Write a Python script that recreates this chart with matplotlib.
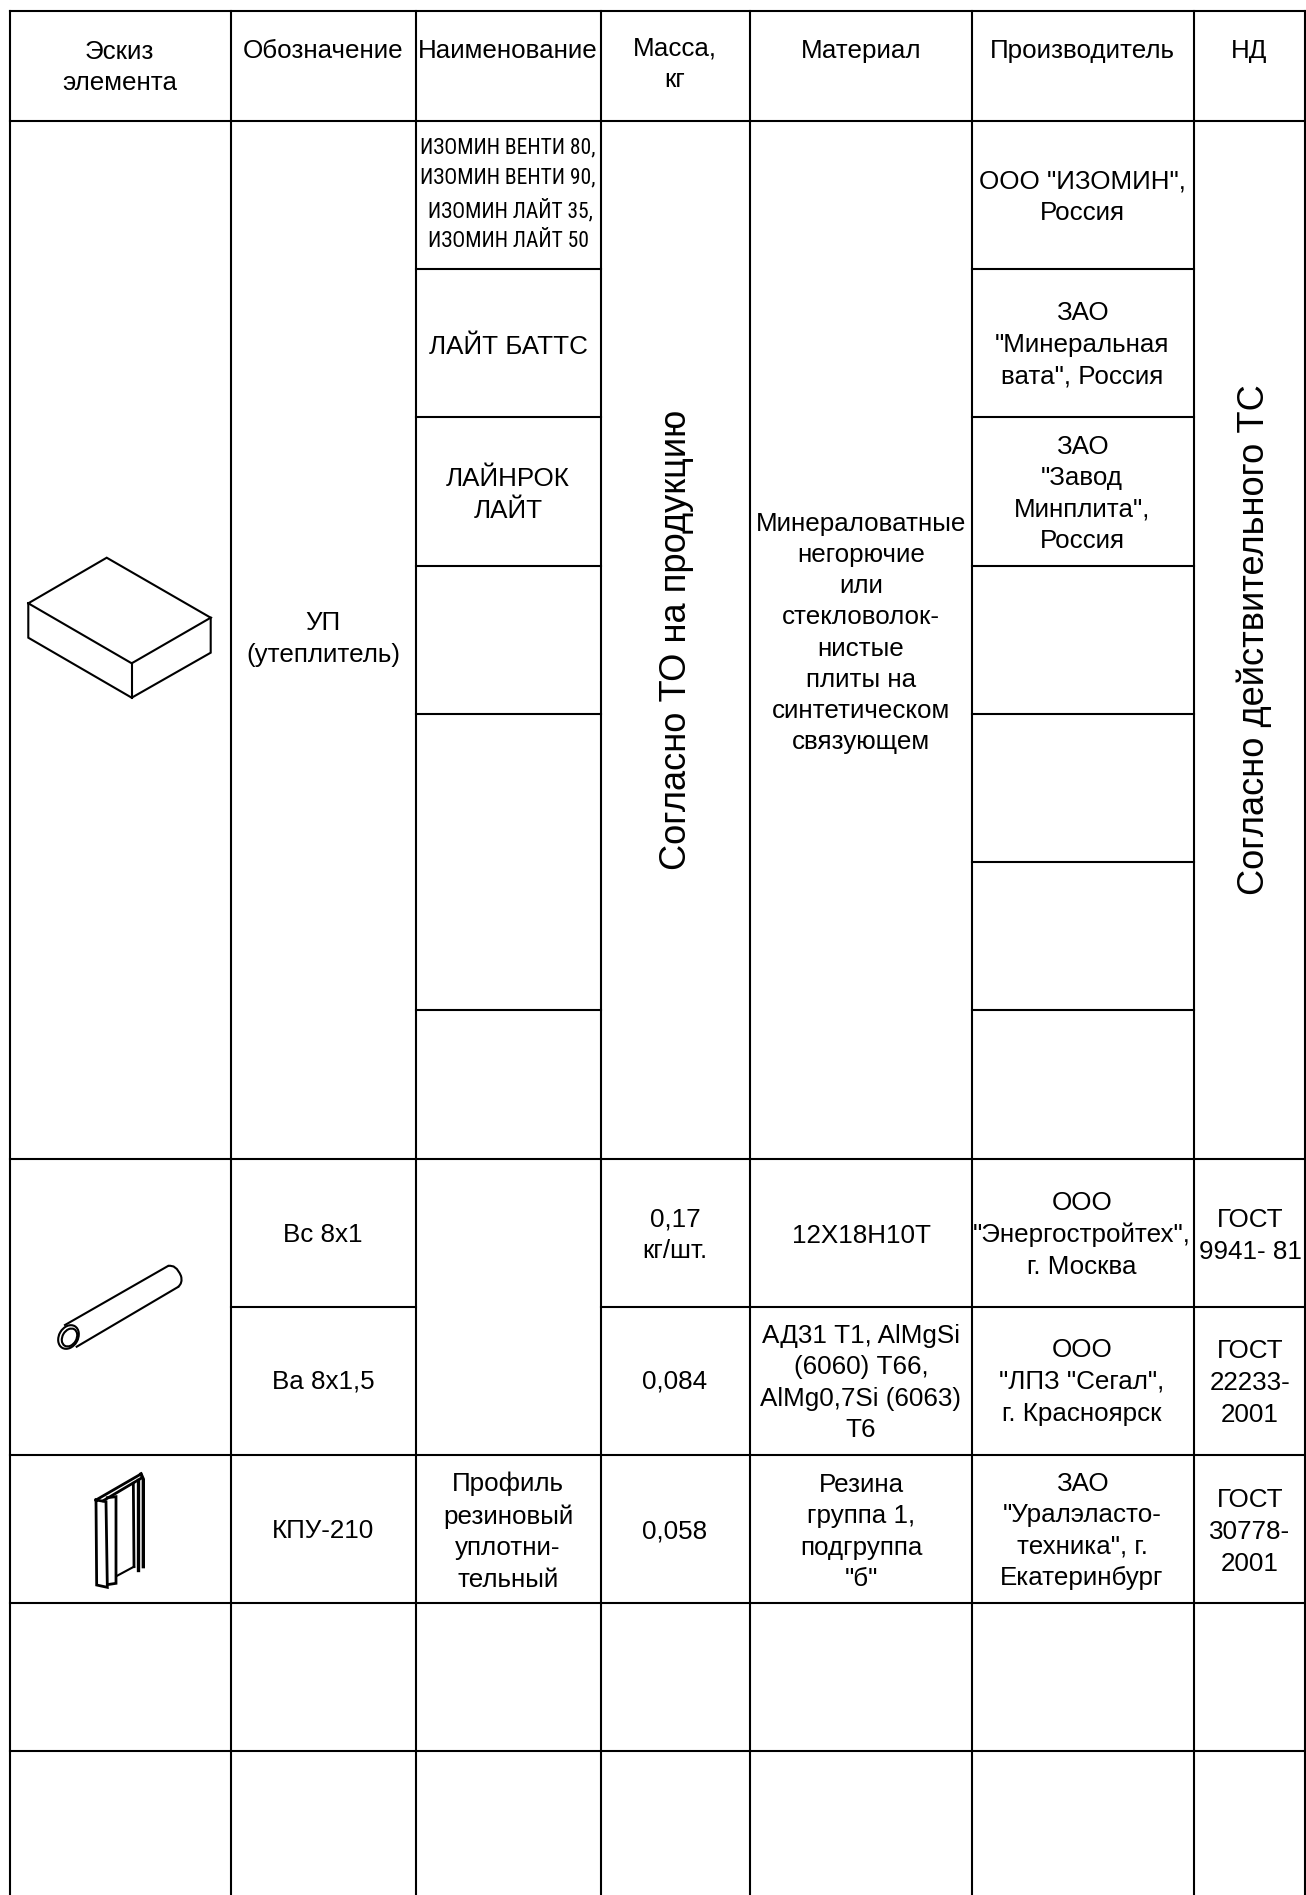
import matplotlib as mpl
mpl.use('Agg')
import matplotlib.pyplot as plt
from matplotlib.patches import Ellipse, PathPatch
from matplotlib.path import Path

plt.rcParams['font.family'] = ['Liberation Sans', 'DejaVu Sans']

W, H = 1306, 1895

# table text
headers = ['Эскиз\nэлемента', 'Обозначение', 'Наименование', 'Масса,\nкг',
           'Материал', 'Производитель', 'НД']
insulation_mark = 'УП\n(утеплитель)'
insulation_brand = 'ИЗОМИН ВЕНТИ 80,\nИЗОМИН ВЕНТИ 90,\n ИЗОМИН ЛАЙТ 35,\nИЗОМИН ЛАЙТ 50'
names = ['ЛАЙТ БАТТС', 'ЛАЙНРОК\nЛАЙТ', 'Профиль\nрезиновый\nуплотни-\nтельный']
insulation_material = ('Минераловатные\nнегорючие\nили\nстекловолок-\nнистые\n'
                       'плиты на\nсинтетическом\nсвязующем')
makers = ['ООО "ИЗОМИН",\nРоссия', 'ЗАО\n"Минеральная\nвата", Россия',
          'ЗАО\n"Завод\nМинплита",\nРоссия', 'ООО\n"Энергостройтех",\nг. Москва',
          'ООО\n"ЛПЗ "Сегал",\nг. Красноярск', 'ЗАО\n"Уралэласто-\nтехника", г.\nЕкатеринбург']
marks = ['Вс 8х1', 'Ва 8х1,5', 'КПУ-210']
masses = ['0,17\nкг/шт.', '0,084', '0,058']
materials = ['12Х18Н10Т', 'АД31 Т1, AlMgSi\n(6060) Т66,\nAlMg0,7Si (6063)\nТ6',
             'Резина\nгруппа 1,\nподгруппа\n"б"']
standards = ['ГОСТ\n9941- 81', 'ГОСТ\n22233-\n2001', 'ГОСТ\n30778-\n2001']
mass_vertical = 'Согласно ТО на продукцию'
standard_vertical = 'Согласно действительного ТС'

# grid
col_x = [9.5, 230.5, 415.5, 601, 749.5, 971.5, 1194, 1305]
row_y = [11, 120.5, 268.5, 417, 565.5, 714, 862, 1010, 1158.5, 1306.5, 1455, 1603, 1751]


def hline(ax, y, x0, x1):
    ax.plot([x0, x1], [y, y], color='black', lw=1.5, solid_capstyle='projecting')


def vline(ax, x, y0, y1):
    ax.plot([x, x], [y0, y1], color='black', lw=1.5, solid_capstyle='projecting')


def cell(ax, x, y, s, size=18.7, spacing=1.4, **kw):
    ax.text(x, y, s, ha='center', va='center', fontsize=size, linespacing=spacing,
            color='black', **kw)


def sketch(ax, pts, lw=1.5):
    ax.plot([p[0] for p in pts], [p[1] for p in pts], color='black', lw=lw,
            solid_joinstyle='miter')


fig = plt.figure(figsize=(W / 100, H / 100), dpi=100)
ax = fig.add_axes([0, 0, 1, 1])
ax.set_xlim(0, W)
ax.set_ylim(H, 0)
ax.axis('off')

for x in col_x:
    vline(ax, x, row_y[0], H)
for i in [0, 1, 8, 10, 11, 12]:
    hline(ax, row_y[i], col_x[0], col_x[-1])
# partial lines of the big insulation row
for i in [2, 3, 4, 5, 7]:
    hline(ax, row_y[i], col_x[2], col_x[3])
for i in [2, 3, 4, 5, 6, 7]:
    hline(ax, row_y[i], col_x[5], col_x[6])
hline(ax, row_y[9], col_x[1], col_x[2])
hline(ax, row_y[9], col_x[3], col_x[-1])

# header
head_pos = [(119.5, 67.5), (323, 51), (508, 51), (675, 64), (861, 51), (1082, 51), (1249, 51)]
for (x, y), s in zip(head_pos, headers):
    cell(ax, x, y, s)

# insulation row
cell(ax, 323, 639, insulation_mark)
ax.text(508, 195, insulation_brand, ha='center', va='center', fontsize=15.5, linespacing=1.55,
        family=['Roboto Condensed', 'Liberation Sans'])
cell(ax, 508, 347, names[0])
cell(ax, 508, 495, names[1])
cell(ax, 861, 633, insulation_material, spacing=1.37)
cell(ax, 1082, 197, makers[0])
cell(ax, 1082, 345, makers[1])
cell(ax, 1082, 494, makers[2])
cell(ax, 677, 640, mass_vertical, size=26.1, rotation=90)
cell(ax, 1254, 640, standard_vertical, size=26.1, rotation=90)

# lower rows
mark_y = [1235, 1382, 1531]
for y, m, ms, mt, mk, st in zip(mark_y, marks, masses, materials, makers[3:], standards):
    cell(ax, 323, y, m)
    cell(ax, 675, y, ms)
    cell(ax, 861, y + 1, mt)
    cell(ax, 1082, y, mk)
    cell(ax, 1250, y + 1, st)
cell(ax, 508, 1532, names[2])

# box sketch
sketch(ax, [(28.3, 603.3), (106.7, 557.7), (210.7, 617.7), (131.7, 663.3), (28.3, 603.3)])
sketch(ax, [(28.3, 603.3), (28.3, 637.7), (131.7, 697.7), (210.7, 652.7), (210.7, 617.7)])
sketch(ax, [(131.7, 663.3), (131.7, 697.7)])

# tube sketch
sketch(ax, [(65, 1325), (168, 1266)])
sketch(ax, [(76.7, 1346.7), (178, 1287)])
ax.add_patch(Ellipse((68.5, 1337), 25, 19, angle=-60, fill=False, ec='black', lw=1.5))
ax.add_patch(Ellipse((69.5, 1337.5), 19, 14, angle=-60, fill=False, ec='black', lw=1.5))
tube_end = Path([(168, 1266), (176, 1264), (181, 1276), (183, 1283), (178, 1287)],
                [Path.MOVETO, Path.CURVE3, Path.CURVE3, Path.CURVE3, Path.CURVE3])
ax.add_patch(PathPatch(tube_end, fill=False, ec='black', lw=1.5))

# rubber profile sketch
px = lambda a, b: (70 + a / 3, 1450 + b / 3)
sketch(ax, [px(78, 150), px(108, 155), px(112, 412), px(80, 405), px(78, 150)], lw=2)
sketch(ax, [px(112, 143), px(138, 140), px(138, 400), px(118, 403)], lw=2)
sketch(ax, [px(78, 150), px(213, 72)], lw=2)
sketch(ax, [px(100, 152), px(213, 85)], lw=2)
sketch(ax, [px(190, 100), px(192, 350)], lw=2)
sketch(ax, [px(205, 90), px(205, 360)], lw=2.4)
sketch(ax, [px(213, 72), px(220, 88), px(220, 350)], lw=2.4)
sketch(ax, [px(140, 378), px(192, 350)], lw=1.5)

fig.savefig('out.png', dpi=100)
